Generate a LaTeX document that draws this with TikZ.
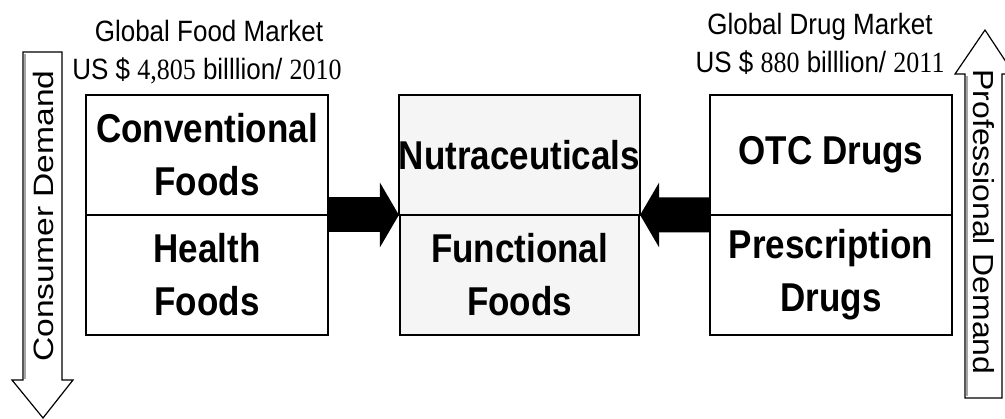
\documentclass[tikz,border=0pt]{standalone}
\usepackage{fontspec}
\setmainfont{Liberation Sans}
\newfontfamily\serifnum{Liberation Serif}
\usetikzlibrary{arrows.meta, positioning}

\begin{document}
\begin{tikzpicture}[
    x=1pt, y=-1pt,
    cell/.style={draw, line width=1.4pt, minimum width=242pt, minimum height=104.3pt,
        inner sep=0pt, outer sep=0pt, yscale=1.15, align=center,
        font=\bfseries\fontsize{35}{46}\selectfont},
    title/.style={anchor=base, inner sep=0pt, yscale=1.13, font=\fontsize{26}{30}\selectfont},
    push/.style={line width=35pt, -{Triangle[length=19pt, width=64pt]}},
    demand/.style={draw, line width=1.2pt, fill=white, line join=miter}
]

    % 1. Area of the picture
    \useasboundingbox (0,0) rectangle (1005,419);
    \clip (0,0) rectangle (1005,419);

    % 2. Demand arrows on both sides
    \draw[demand] (23,52) -- (62,52) -- (62,380) -- (73,380) -- (43,418)
        -- (12,380) -- (23,380) -- cycle;
    \draw[gray!70, line width=2.5pt] (25,54) -- (25,379);
    \draw[demand] (965,398) -- (1002,398) -- (1002,74) -- (1014,74) -- (985,30)
        -- (955,74) -- (965,74) -- cycle;
    \draw[gray!70, line width=2.5pt] (967,76) -- (967,396);

    \node[rotate=90, font=\fontsize{28}{30}\selectfont] (consumer) at (43,216)
        {\scalebox{1.2}[1]{Consumer Demand}};
    \node[rotate=-90, font=\fontsize{29}{31}\selectfont] (professional) at (984,222)
        {\scalebox{1.1}[1]{Professional Demand}};

    % 3. The three columns
    \node[cell] (conv) at (207,155) {Conventional\\Foods};
    \node[cell, below=0pt of conv] (health) {Health\\Foods};

    \node[cell, fill=gray!8, minimum width=239pt] (nutra) at (519.5,155) {Nutraceuticals};
    \node[cell, fill=gray!8, minimum width=239pt, below=0pt of nutra] (func) {Functional\\Foods};

    \node[cell] (otc) at (831,155) {OTC Drugs};
    \node[cell, below=0pt of otc] (presc) {Prescription\\Drugs};

    % 4. Black arrows into the middle
    \draw[push] (conv.south east) -- (nutra.south west);
    \draw[push] (otc.south west) -- (nutra.south east);

    % 5. Market sizes
    \node[title] (foodtitle) at (209,42) {Global Food Market};
    \node[title] (foodsize) at (207,80) {US \$ {\serifnum 4,805} billlion/ {\serifnum 2010}};
    \node[title] (drugtitle) at (820,35) {Global Drug Market};
    \node[title] (drugsize) at (820,73) {US \$ {\serifnum 880} billlion/ {\serifnum 2011}};

\end{tikzpicture}
\end{document}
